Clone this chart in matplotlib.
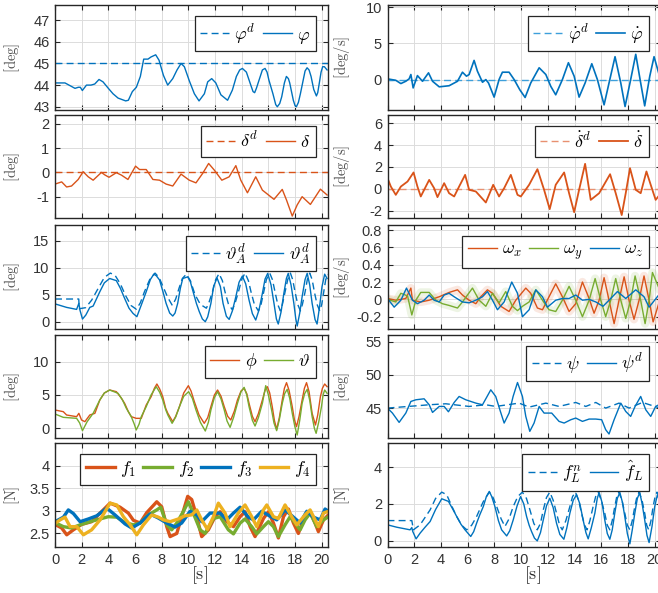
import matplotlib
matplotlib.use('Agg')
import matplotlib.pyplot as plt

plt.rcParams['mathtext.fontset'] = 'cm'
plt.rcParams['font.family'] = ['Liberation Sans', 'DejaVu Sans']
plt.rcParams['axes.unicode_minus'] = False
plt.rcParams['lines.solid_joinstyle'] = 'round'
plt.rcParams['lines.dash_joinstyle'] = 'round'

BLUE = '#0072BD'
ORANGE = '#D95319'
GREEN = '#77AC30'
YELLOW = '#EDB120'
DARK = '#262626'

# ---------------- data (time [s], value) ----------------
# Row 1 left: phi
phi_t = [0, 0.75, 1.5, 1.75, 1.9, 2.05, 2.36, 2.7, 2.98, 3.3, 3.6, 4.0, 4.35, 4.73, 5.3, 5.5, 5.8, 6.1, 6.4,
         6.65, 6.97, 7.2, 7.55, 7.8, 8.13, 8.45, 8.83, 9.15, 9.45, 9.7, 10.07, 10.45, 10.8, 11.2, 11.45, 11.75,
         12.06, 12.44, 12.94, 13.3, 13.6, 13.85, 14.05, 14.35, 14.68, 14.85, 14.97, 15.1, 15.3, 15.55, 15.75,
         15.9, 16.04, 16.34, 16.55, 16.67, 16.85, 17.0, 17.2, 17.35, 17.5, 17.6, 17.87, 18.0, 18.1, 18.25,
         18.4, 18.6, 18.75, 18.9, 19.05, 19.2, 19.4, 19.6, 19.7, 19.82, 19.95, 20.07, 20.2, 20.4]
phi_v = [44.1, 44.1, 43.85, 43.9, 43.9, 43.75, 44.0, 44.0, 44.05, 44.26, 44.15, 43.85, 43.6, 43.4, 43.27,
         43.3, 43.7, 43.9, 44.4, 45.2, 45.2, 45.3, 45.4, 45.15, 44.45, 44.0, 44.3, 44.7, 45.0, 44.85, 44.2,
         43.6, 43.27, 43.6, 44.15, 44.3, 44.1, 43.55, 43.3, 43.77, 44.4, 44.7, 44.77, 44.6, 44.0, 43.7, 43.65,
         43.85, 44.23, 44.7, 44.77, 44.6, 44.23, 43.6, 43.1, 43.0, 43.15, 43.46, 44.1, 44.4, 44.3, 44.1,
         43.3, 43.05, 43.0, 43.2, 43.6, 44.2, 44.65, 44.8, 44.7, 44.4, 43.8, 43.5, 43.65, 44.1, 44.6, 44.85,
         44.85, 44.7]
phi_d_t = [0, 20.5]
phi_d_v = [45.0, 45.0]

# Row 2 left: delta
delta_t = [0, 0.5, 0.87, 1.24, 1.74, 2.11, 2.49, 2.86, 3.48, 3.73, 4.05, 4.6, 4.98, 5.47, 6.04, 6.34, 6.84,
           7.34, 7.84, 8.33, 8.83, 9.45, 10.07, 10.57, 11.07, 11.52, 11.94, 12.51, 13.06, 13.56, 13.93,
           14.43, 15.05, 15.55, 16.42, 17.04, 17.36, 17.79, 18.16, 18.53, 19.15, 19.9, 20.4]
delta_v = [-0.48, -0.39, -0.6, -0.56, -0.29, 0.03, -0.18, -0.32, 0.0, -0.1, -0.2, -0.01, -0.11, -0.29,
           0.26, 0.12, 0.12, -0.29, -0.32, -0.48, -0.56, -0.07, -0.32, -0.43, -0.04, 0.37, 0.1, -0.32,
           -0.18, 0.28, -0.32, -0.84, -0.18, -0.73, -1.11, -0.7, -1.14, -1.8, -1.34, -1.0, -1.32, -0.69, -0.93]
delta_d_t = [0, 20.5]
delta_d_v = [0.0, 0.0]

# Row 3 left: theta_A desired (dashed) and actual (solid)
thA_d_t = [0, 1.78, 1.82, 2.3, 2.75, 3.2, 3.7, 4.15, 4.5, 4.9, 5.3, 5.7, 6.1, 6.4, 6.7, 7.1, 7.5, 7.8, 8.1,
           8.45, 8.8, 9.05, 9.3, 9.55, 9.85, 10.15, 10.5, 10.9, 11.35, 11.55, 11.8, 12.05, 12.3, 12.55, 12.75,
           13.0, 13.3, 13.5, 13.75, 14.0, 14.25, 14.5, 14.7, 14.95, 15.25, 15.45, 15.65, 15.85, 16.1, 16.3,
           16.5, 16.7, 16.9, 17.05, 17.25, 17.45, 17.65, 17.82, 18.0, 18.2, 18.4, 18.55, 18.75, 18.92, 19.1,
           19.28, 19.45, 19.65, 19.85, 20.0, 20.15, 20.3, 20.45]
thA_d_v = [4.2, 4.2, 2.4, 2.6, 4.0, 6.0, 8.2, 9.0, 8.6, 7.0, 4.8, 3.0, 2.3, 3.5, 5.5, 7.8, 9.0, 8.2, 6.5,
           4.5, 3.0, 4.2, 6.2, 8.0, 8.8, 7.6, 5.0, 3.2, 2.5, 3.6, 5.5, 7.8, 8.9, 7.6, 5.5, 3.3, 2.2, 3.4, 5.5,
           7.8, 9.0, 7.6, 5.5, 3.2, 2.0, 3.2, 5.5, 7.8, 9.0, 7.8, 5.5, 3.2, 2.0, 3.2, 5.5, 7.8, 9.0, 7.8, 5.5,
           3.2, 2.0, 3.2, 5.5, 7.8, 9.0, 7.8, 5.5, 3.2, 2.0, 3.2, 5.5, 7.8, 8.8]
thA_t = [0, 0.87, 1.62, 1.79, 1.87, 2.06, 2.31, 2.61, 2.86, 3.36, 3.7, 4.1, 4.6, 4.9, 5.22, 5.55, 5.85, 6.14,
         6.47, 6.84, 7.15, 7.41, 7.6, 7.84, 8.1, 8.33, 8.6, 8.83, 9.0, 9.2, 9.4, 9.58, 9.95, 10.15, 10.32,
         10.6, 10.82, 11.05, 11.27, 11.45, 11.69, 11.9, 12.15, 12.4, 12.6, 12.85, 13.06, 13.3, 13.56, 13.8,
         14.05, 14.3, 14.55, 14.8, 15.05, 15.3, 15.55, 15.75, 15.95, 16.2, 16.42, 16.6, 16.74, 16.95, 17.16,
         17.35, 17.49, 17.7, 17.91, 18.05, 18.16, 18.35, 18.53, 18.75, 18.91, 19.1, 19.28, 19.5, 19.65,
         19.85, 20.02, 20.22, 20.4]
thA_v = [3.3, 2.65, 2.28, 3.4, 2.16, 0.49, 1.23, 2.65, 2.9, 5.55, 7.2, 8.0, 7.6, 6.2, 4.32, 2.5, 1.54, 0.93,
         3.09, 5.55, 7.8, 8.8, 8.5, 7.72, 5.5, 3.4, 1.6, 1.05, 1.6, 3.4, 6.2, 8.0, 8.3, 7.4, 5.86, 3.4, 1.85,
         0.5, 0.0, 0.9, 3.4, 6.6, 8.1, 6.5, 3.4, 1.0, 0.43, 2.0, 4.63, 7.3, 8.45, 7.0, 4.01, 1.5, 0.31, 2.2,
         5.25, 7.9, 8.95, 6.8, 3.4, 0.5, -0.43, 1.8, 5.25, 8.0, 8.95, 6.8, 3.4, 0.6, -0.8, 1.6, 4.63, 7.8,
         8.95, 6.8, 3.4, 0.4, -0.43, 3.0, 6.48, 8.8, 8.0]

# Row 4 left: roll phi and pitch theta
roll_t = [0, 0.62, 0.87, 1.62, 1.79, 1.99, 2.24, 2.61, 2.99, 3.36, 3.7, 4.1, 4.6, 4.95, 5.22, 5.5, 5.72, 6.09,
          6.47, 6.84, 7.21, 7.45, 7.64, 7.85, 8.08, 8.3, 8.46, 8.83, 9.05, 9.33, 9.65, 10.0, 10.2, 10.45,
          10.8, 11.19, 11.45, 11.69, 11.95, 12.19, 12.45, 12.69, 12.95, 13.18, 13.45, 13.68, 13.95, 14.18,
          14.38, 14.55, 14.8, 15.0, 15.25, 15.55, 15.75, 15.92, 16.1, 16.29, 16.45, 16.62, 16.82, 17.04,
          17.2, 17.36, 17.55, 17.79, 17.95, 18.11, 18.3, 18.53, 18.7, 18.86, 19.05, 19.28, 19.53, 19.7,
          19.9, 20.05, 20.22, 20.4]
roll_v = [2.75, 2.5, 2.0, 1.75, 2.25, 1.25, 1.0, 2.0, 2.25, 4.25, 5.3, 5.75, 5.5, 4.6, 3.75, 2.5, 1.75, 1.5,
          1.5, 3.5, 4.75, 6.0, 6.65, 5.9, 4.75, 3.0, 2.25, 1.0, 1.8, 3.25, 5.3, 6.4, 5.6, 4.0, 2.0, 0.75, 1.6,
          3.25, 5.0, 5.75, 4.8, 3.25, 1.8, 1.25, 2.6, 4.25, 5.6, 6.0, 5.2, 3.75, 1.8, 1.0, 2.2, 4.25, 5.7,
          6.25, 5.3, 3.25, 1.2, -0.15, 1.6, 4.25, 6.0, 6.85, 5.7, 3.25, 1.3, 0.25, 1.8, 4.25, 6.0, 6.85,
          5.5, 2.25, 0.5, 2.0, 4.75, 6.0, 6.65, 6.25]
pitch_t = [0, 0.62, 1.62, 1.85, 2.06, 2.41, 2.86, 3.36, 3.7, 4.1, 4.73, 5.05, 5.35, 5.72, 5.95, 6.09, 6.3,
           6.47, 6.84, 7.2, 7.59, 7.85, 8.08, 8.3, 8.46, 8.78, 9.05, 9.33, 9.65, 10.02, 10.3, 10.57, 10.9,
           11.27, 11.5, 11.69, 11.95, 12.19, 12.45, 12.69, 12.9, 13.13, 13.4, 13.68, 13.95, 14.18, 14.38,
           14.55, 14.8, 15.0, 15.25, 15.55, 15.8, 16.0, 16.24, 16.42, 16.62, 16.82, 17.04, 17.22, 17.41,
           17.6, 17.79, 17.98, 18.16, 18.35, 18.53, 18.72, 18.91, 19.1, 19.28, 19.45, 19.58, 19.78, 19.98,
           20.1, 20.22, 20.4]
pitch_v = [2.15, 1.65, 1.5, 0.8, -0.35, 1.0, 2.25, 4.25, 5.3, 5.75, 5.25, 4.3, 3.0, 1.75, 0.6, -0.25, 0.6,
           1.75, 3.25, 5.0, 6.25, 5.4, 4.25, 2.8, 2.0, 0.75, 1.7, 3.25, 4.8, 5.5, 4.5, 2.75, 0.9, -0.4, 0.9,
           2.75, 4.6, 5.5, 4.4, 2.75, 1.1, 0.15, 1.7, 3.75, 5.5, 6.15, 5.0, 3.25, 1.2, 0.35, 1.6, 3.75, 6.4,
           5.0, 2.75, 0.8, -0.35, 1.3, 3.75, 5.2, 5.85, 4.5, 2.25, 0.3, -1.0, 1.2, 3.75, 5.2, 5.85, 4.2, 1.75,
           0.0, -0.75, 1.0, 3.25, 5.0, 5.75, 5.25]

# Row 5 left: rotor forces
f1_t = [0, 0.5, 0.88, 1.38, 2.0, 2.75, 3.38, 4.13, 4.88, 5.5, 5.88, 6.38, 6.88, 7.63, 8.0, 8.38, 8.63, 9.13,
        9.5, 9.95, 10.25, 10.63, 11.0, 11.5, 12.0, 12.38, 12.88, 13.38, 13.88, 14.25, 14.63, 15.0, 15.63,
        16.0, 16.38, 16.75, 17.13, 17.5, 17.88, 18.25, 18.75, 19.13, 19.5, 19.75, 20.13, 20.5]
f1_v = [2.7, 2.62, 2.47, 2.58, 2.7, 2.76, 2.95, 3.17, 3.08, 2.95, 2.79, 2.73, 2.96, 3.2, 3.09, 2.65, 2.43,
        2.5, 2.87, 3.32, 3.25, 2.87, 2.43, 2.58, 2.87, 2.98, 2.76, 2.65, 2.87, 2.98, 2.65, 2.43, 2.83, 2.98,
        2.73, 2.4, 2.87, 3.04, 2.73, 2.5, 2.91, 2.98, 2.73, 2.54, 2.8, 2.91]
f2_t = [0, 0.63, 1.25, 1.88, 2.63, 3.38, 4.0, 4.63, 5.25, 5.88, 6.38, 7.0, 7.63, 7.93, 8.38, 8.75, 9.13,
        9.63, 10.0, 10.38, 10.88, 11.25, 11.88, 12.38, 13.0, 13.38, 13.88, 14.25, 14.75, 15.13, 15.63, 16.0,
        16.38, 16.75, 17.25, 17.63, 18.0, 18.38, 18.75, 19.13, 19.63, 20.13, 20.5]
f2_v = [2.74, 2.65, 2.62, 2.69, 2.76, 2.82, 2.87, 2.86, 2.74, 2.69, 2.73, 2.91, 3.02, 3.08, 2.69, 2.58,
        2.73, 2.99, 3.2, 2.94, 2.58, 2.5, 2.83, 2.87, 2.58, 2.49, 2.73, 2.82, 2.65, 2.49, 2.65, 2.76, 2.65,
        2.43, 2.69, 2.87, 2.73, 2.58, 2.8, 2.95, 2.65, 2.8, 2.87]
f3_t = [0, 0.63, 1.0, 1.38, 1.88, 2.5, 3.13, 3.88, 4.5, 5.25, 5.75, 6.38, 7.13, 7.75, 8.38, 9.0, 9.5,
        10.13, 10.63, 11.0, 11.63, 12.38, 12.88, 13.38, 13.88, 14.5, 14.88, 15.5, 16.13, 16.63, 17.25,
        17.88, 18.38, 18.88, 19.38, 19.88, 20.25, 20.5]
f3_v = [2.76, 2.86, 3.02, 2.94, 2.76, 2.82, 2.89, 3.06, 2.91, 2.71, 2.62, 2.73, 2.93, 2.84, 2.73, 2.64,
        2.73, 2.99, 2.91, 2.76, 2.95, 2.95, 2.8, 2.95, 3.08, 2.86, 2.8, 2.99, 2.88, 2.8, 3.02, 2.86, 2.73,
        2.99, 2.86, 2.8, 3.04, 2.99]
f4_t = [0, 0.38, 0.75, 1.13, 1.63, 2.13, 2.75, 3.38, 4.13, 4.63, 5.13, 5.63, 6.13, 6.63, 7.25, 7.75, 8.13,
        8.63, 9.25, 9.75, 10.25, 10.63, 11.0, 11.43, 11.88, 12.25, 12.75, 13.13, 13.75, 14.25, 14.75, 15.13,
        15.63, 15.88, 16.38, 16.75, 17.25, 17.75, 18.13, 18.75, 19.13, 19.5, 19.75, 20.13, 20.5]
f4_v = [2.72, 2.8, 2.86, 2.65, 2.65, 2.47, 2.58, 2.8, 3.17, 3.13, 2.87, 2.69, 2.47, 2.69, 2.91, 2.86, 2.8,
        2.76, 2.82, 2.89, 2.91, 3.02, 2.8, 2.59, 2.87, 3.17, 2.95, 2.65, 2.95, 3.13, 2.87, 2.65, 3.02, 3.13,
        2.87, 2.83, 3.13, 2.87, 2.69, 2.91, 3.02, 2.8, 2.65, 2.95, 2.99]

# Row 1 right: phi rate
phidot_t = [0, 0.62, 1.0, 1.37, 1.62, 1.75, 1.92, 2.24, 2.62, 3.07, 3.37, 3.87, 4.61, 5.24, 5.61, 5.91,
            6.11, 6.48, 6.73, 7.11, 7.36, 7.56, 7.98, 8.35, 8.6, 9.1, 9.48, 9.9, 10.3, 10.72, 11.35, 11.85,
            12.22, 12.59, 13.09, 13.54, 13.97, 14.34, 14.79, 15.29, 15.71, 16.21, 16.58, 17.03, 17.46,
            17.78, 18.2, 18.58, 18.95, 19.25, 19.63, 19.95, 20.4]
phidot_v = [0.1, -0.1, -0.55, -0.23, 0.1, 0.7, -1.15, 0.55, -0.23, 0.93, -0.23, -1.0, -0.85, -0.23, 1.02,
            0.47, 0.7, 2.65, 1.16, -0.37, 0.0, -0.47, -2.42, 0.0, 1.02, 1.02, 0.0, -1.4, -2.47, -0.47, 1.63,
            0.7, -0.93, -2.1, 0.0, 2.33, 0.47, -2.42, -0.47, 2.19, 0.0, -3.49, -0.47, 3.16, -0.47, -3.72,
            0.0, 3.49, -0.47, -3.63, 0.47, 3.16, 0.23]
phidot_d_t = [0, 20.5]
phidot_d_v = [0.0, 0.0]

# Row 2 right: delta rate
ddot_t = [0, 0.25, 0.62, 1.0, 1.5, 1.95, 2.24, 2.49, 3.12, 3.49, 3.74, 4.24, 4.61, 4.99, 5.36, 5.81, 6.11,
          6.61, 7.36, 7.91, 8.35, 8.73, 9.23, 9.73, 9.98, 10.6, 11.22, 11.72, 12.14, 12.59, 13.22, 13.59,
          13.97, 14.34, 14.79, 15.21, 15.84, 16.66, 17.08, 17.53, 17.83, 18.15, 18.58, 18.95, 19.38, 19.7,
          20.07, 20.4]
ddot_v = [0.98, 0.21, -0.55, 0.21, 0.67, 1.5, 0.21, -0.7, 0.82, 0.06, -0.76, 0.52, -0.4, -0.7, 0.21, 1.28,
          -0.09, -0.24, -1.25, 0.37, -0.7, 0.06, 1.28, -0.55, -0.7, 0.37, 1.8, -0.09, -1.86, 0.37, 1.5, -0.4,
          -2.14, -0.09, 2.29, -1.01, -0.4, 1.34, -0.4, -2.4, -0.4, 1.89, -0.09, -0.4, 1.59, 0.37, -1.01, -0.5]
ddot_d_t = [0, 20.5]
ddot_d_v = [0.0, 0.0]

# Row 3 right: angular rates
wx_t = [0, 0.62, 1.37, 1.75, 1.87, 2.49, 3.12, 3.87, 4.61, 5.24, 5.61, 6.11, 6.61, 6.98, 7.48, 7.86, 8.48,
        9.1, 9.6, 10.35, 10.72, 11.22, 11.6, 12.09, 12.59, 13.09, 13.59, 14.09, 14.59, 15.09, 15.46, 15.84,
        16.21, 16.58, 16.96, 17.33, 17.71, 18.08, 18.45, 18.83, 19.2, 19.58, 19.88, 20.4]
wx_v = [0.01, -0.01, 0.01, 0.13, -0.01, -0.03, -0.01, 0.03, 0.08, 0.11, 0.05, -0.01, -0.05, 0.03, 0.11,
        0.07, -0.08, -0.14, -0.01, 0.13, 0.07, -0.1, -0.12, 0.03, 0.18, 0.03, -0.14, -0.05, 0.2, 0.01, -0.16,
        -0.01, 0.25, -0.01, -0.28, -0.01, 0.26, -0.01, -0.23, -0.01, 0.27, -0.01, -0.26, 0.0]
wy_t = [0, 0.62, 1.0, 1.5, 1.82, 2.12, 2.49, 3.12, 3.62, 4.11, 4.61, 5.24, 5.61, 6.36, 6.86, 7.36, 7.86,
        8.35, 8.85, 9.35, 9.73, 10.1, 10.6, 11.1, 11.6, 12.09, 12.59, 13.09, 13.59, 14.09, 14.59, 15.09,
        15.54, 15.96, 16.33, 16.71, 17.08, 17.46, 17.83, 18.2, 18.53, 18.95, 19.28, 19.58, 19.83, 20.4]
wy_v = [0.0, -0.03, 0.07, 0.04, -0.18, -0.01, 0.08, 0.08, -0.01, -0.05, -0.07, -0.1, -0.03, 0.13, -0.01,
        -0.08, 0.07, -0.04, 0.09, -0.08, -0.13, -0.08, -0.03, 0.11, -0.01, -0.12, -0.14, -0.01, 0.15, -0.01,
        -0.2, -0.01, 0.24, -0.01, -0.2, -0.01, 0.24, -0.01, -0.22, -0.01, 0.27, -0.01, -0.28, -0.01, 0.31, 0.1]
wz_t = [0, 0.5, 1.0, 1.42, 1.87, 2.24, 2.74, 3.12, 3.49, 3.87, 4.24, 4.61, 4.99, 5.61, 6.11, 6.61, 7.11,
        7.48, 7.86, 8.23, 8.73, 9.3, 9.73, 10.1, 10.6, 11.1, 11.6, 11.97, 12.59, 13.09, 13.59, 14.09, 14.59,
        15.09, 15.59, 16.13, 16.58, 17.21, 17.83, 18.58, 19.2, 19.58, 20.4]
wz_v = [0.01, -0.09, -0.01, 0.13, -0.01, -0.05, -0.01, 0.05, -0.01, -0.03, 0.05, 0.07, 0.03, -0.03,
        -0.04, -0.01, 0.03, 0.09, -0.01, -0.12, -0.03, 0.2, 0.07, -0.2, -0.12, 0.11, 0.03, -0.09, -0.01,
        0.01, 0.01, 0.05, -0.01, 0.0, -0.03, -0.08, -0.01, 0.09, 0.01, 0.11, 0.03, -0.09, 0.07]

# Row 4 right: yaw
psi_t = [0, 3.12, 4.36, 6.11, 7.36, 8.1, 9.85, 10.6, 11.85, 12.84, 14.09, 14.84, 15.59, 16.33, 17.33,
         18.08, 19.08, 20.4]
psi_v = [45.0, 45.5, 45.65, 45.25, 45.5, 45.25, 45.75, 45.15, 45.75, 45.25, 45.85, 45.25, 45.85, 45.0,
         45.75, 45.0, 45.85, 45.0]
psi_d_t = [0, 0.37, 0.87, 1.37, 1.75, 2.12, 2.74, 3.12, 3.37, 3.87, 4.24, 4.56, 4.99, 5.36, 5.86, 6.61,
           7.11, 7.73, 8.1, 8.45, 8.73, 9.1, 9.4, 9.73, 10.1, 10.35, 10.65, 10.97, 11.35, 11.72, 12.29, 12.84,
           13.22, 13.72, 14.09, 14.59, 15.09, 15.59, 16.03, 16.33, 16.58, 16.96, 17.46, 17.83, 18.2, 18.53,
           18.95, 19.33, 19.7, 20.07, 20.4]
psi_d_v = [45.0, 44.25, 42.85, 44.25, 46.0, 46.25, 46.4, 45.5, 44.35, 45.25, 45.25, 44.45, 45.85, 46.75,
           46.25, 45.75, 45.5, 47.75, 46.75, 44.5, 42.75, 44.25, 46.75, 48.85, 46.75, 43.75, 41.5, 42.75, 45.25,
           44.25, 44.25, 43.0, 42.75, 43.25, 43.5, 43.0, 43.35, 43.35, 43.25, 41.75, 41.1, 43.25, 45.75,
           44.5, 43.75, 45.25, 46.75, 44.75, 43.75, 45.25, 45.6]

# Row 5 right: lift force nominal (dashed) and estimated (solid)
fLn_t = [0, 1.82, 1.94, 2.44, 3.19, 3.6, 4.06, 4.43, 4.8, 5.18, 5.55, 5.93, 6.3, 6.67, 7.15, 7.62, 7.9,
         8.17, 8.5, 8.79, 9.1, 9.41, 9.75, 10.09, 10.4, 10.66, 10.95, 11.21, 11.45, 11.66, 11.9, 12.15,
         12.4, 12.65, 12.88, 13.08, 13.35, 13.65, 13.85, 14.07, 14.3, 14.52, 14.75, 14.94, 15.15, 15.39,
         15.58, 15.77, 16.0, 16.26, 16.45, 16.64, 16.82, 17.01, 17.16, 17.31, 17.55, 17.76, 17.95, 18.14,
         18.32, 18.51, 18.67, 18.83, 19.05, 19.25, 19.4, 19.55, 19.72, 19.88, 20.03, 20.17, 20.4]
fLn_v = [1.1, 1.1, 0.6, 0.87, 1.68, 2.3, 2.64, 2.5, 1.9, 1.32, 0.85, 0.6, 0.85, 1.32, 2.1, 2.64, 2.35,
         1.86, 1.2, 0.78, 1.2, 1.86, 2.4, 2.64, 2.3, 1.68, 0.95, 0.6, 0.95, 1.68, 2.35, 2.64, 2.2, 1.5, 0.85,
         0.6, 1.1, 1.86, 2.4, 2.64, 2.2, 1.5, 0.85, 0.6, 1.1, 1.86, 2.4, 2.64, 2.2, 1.5, 0.85, 0.6, 1.1, 1.86,
         2.4, 2.64, 2.2, 1.5, 0.85, 0.6, 1.1, 1.86, 2.4, 2.64, 2.2, 1.5, 0.85, 0.6, 1.1, 1.86, 2.4, 2.64, 2.3]
fL_t = [0, 0.7, 1.69, 1.82, 1.89, 2.14, 2.44, 2.81, 3.19, 3.6, 4.06, 4.56, 4.9, 5.18, 5.5, 5.8, 6.23, 6.45,
        6.67, 6.9, 7.17, 7.4, 7.62, 7.8, 8.04, 8.3, 8.54, 8.92, 9.15, 9.41, 9.7, 9.96, 10.2, 10.41, 10.6,
        10.78, 11.0, 11.21, 11.45, 11.66, 11.9, 12.15, 12.4, 12.65, 12.9, 13.2, 13.42, 13.65, 13.9, 14.15,
        14.4, 14.64, 14.85, 15.02, 15.25, 15.52, 15.7, 15.84, 16.05, 16.26, 16.45, 16.64, 16.82, 17.01,
        17.2, 17.39, 17.58, 17.76, 17.95, 18.14, 18.32, 18.51, 18.7, 18.88, 19.06, 19.25, 19.42, 19.58,
        19.8, 20.0, 20.2, 20.4]
fL_v = [0.87, 0.74, 0.6, 0.72, 0.51, 0.11, 0.42, 0.74, 1.05, 1.7, 2.28, 2.14, 1.7, 1.32, 0.9, 0.6, 0.24,
        0.5, 0.96, 1.4, 1.86, 2.4, 2.68, 2.4, 1.86, 1.1, 0.6, 0.27, 0.55, 1.14, 1.9, 2.4, 2.0, 1.32, 0.85,
        0.51, 0.15, 0.0, 0.45, 1.14, 1.9, 2.31, 1.8, 0.96, 0.35, 0.09, 0.7, 1.5, 2.2, 2.5, 2.0, 1.14, 0.45,
        0.11, 0.7, 1.5, 2.3, 2.62, 2.1, 1.14, 0.4, 0.09, 0.6, 1.5, 2.3, 2.62, 2.1, 1.32, 0.4, -0.16, 0.6,
        1.5, 2.3, 2.62, 2.0, 1.14, 0.3, -0.09, 0.8, 1.86, 2.5, 2.1]

# axis settings
x_ticks = [0, 2, 4, 6, 8, 10, 12, 14, 16, 18, 20]
x_tick_labels = ['0', '2', '4', '6', '8', '10', '12', '14', '16', '18', '20']
w_ticks = [-0.2, 0, 0.2, 0.4, 0.6, 0.8]
w_tick_labels = ['-0.2', '0', '0.2', '0.4', '0.6', '0.8']

# ---------------- figure ----------------
W, H = 658, 593
fig = plt.figure(figsize=(W / 100, H / 100), dpi=100)

rows_px = [(5, 110), (115, 218), (225, 329), (335, 438), (443, 547)]
left_px = (55, 328)
right_px = (387.5, 661)


def make_ax(col, row):
    x0, x1 = left_px if col == 0 else right_px
    y0, y1 = rows_px[row]
    return fig.add_axes([x0 / W, 1 - y1 / H, (x1 - x0) / W, (y1 - y0) / H])


def style(ax, ylim, yticks, ylabel, col, bottom=False, yticklabels=None):
    ax.set_xlim(0, 20.47)
    ax.set_ylim(*ylim)
    ax.set_xticks(x_ticks)
    ax.set_yticks(yticks)
    if yticklabels is not None:
        ax.set_yticklabels(yticklabels)
    if bottom:
        ax.set_xticklabels(x_tick_labels)
        ax.set_xlabel(r'$[\mathrm{s}]$', fontsize=13, color=DARK)
        ax.xaxis.set_label_coords(0.53, -0.17)
    else:
        ax.set_xticklabels([])
    ax.grid(True, color='#dcdcdc', linewidth=0.7)
    ax.set_axisbelow(True)
    ax.tick_params(direction='in', top=True, right=True, length=3.5, width=0.8,
                   colors=DARK, labelsize=10.5, pad=4)
    ax.tick_params(labelcolor='#333333')
    for s in ax.spines.values():
        s.set_color(DARK)
        s.set_linewidth(1.0)
    ax.set_ylabel(ylabel, fontsize=10.5, color='#505050')
    ax.yaxis.set_label_coords(-0.12 if col == 0 else -0.13, 0.5)


def legend(ax, ncol=2):
    leg = ax.legend(loc='upper right', bbox_to_anchor=(1 - 12 / 273, 1 - 11 / 104), borderaxespad=0,
                    ncol=ncol, fontsize=13, frameon=True, fancybox=False, framealpha=1,
                    edgecolor=DARK, handlelength=1.6, handletextpad=0.3, columnspacing=0.4,
                    borderpad=0.3)
    leg.get_frame().set_linewidth(0.9)


DASH = (0, (5, 3))
LW = 1.0

# Row 1 left
ax = make_ax(0, 0)
ax.plot(phi_d_t, phi_d_v, color=BLUE, lw=LW, ls=DASH, label=r'$\varphi^d$')
ax.plot(phi_t, phi_v, color=BLUE, lw=LW, label=r'$\varphi$')
style(ax, (42.85, 47.7), [43, 44, 45, 46, 47], r'$[\mathrm{deg}]$', 0)
legend(ax)

# Row 2 left
ax = make_ax(0, 1)
ax.plot(delta_d_t, delta_d_v, color=ORANGE, lw=LW, ls=DASH, label=r'$\delta^d$')
ax.plot(delta_t, delta_v, color=ORANGE, lw=LW, label=r'$\delta$')
style(ax, (-1.88, 2.37), [-1, 0, 1, 2], r'$[\mathrm{deg}]$', 0)
legend(ax)

# Row 3 left
ax = make_ax(0, 2)
ax.plot(thA_d_t, thA_d_v, color=BLUE, lw=LW, ls=DASH, label=r'$\vartheta_A^d$')
ax.plot(thA_t, thA_v, color=BLUE, lw=LW, label=r'$\vartheta_A^d$')
style(ax, (-1.35, 17.9), [0, 5, 10, 15], r'$[\mathrm{deg}]$', 0)
legend(ax)

# Row 4 left
ax = make_ax(0, 3)
ax.plot(roll_t, roll_v, color=ORANGE, lw=LW, label=r'$\phi$')
ax.plot(pitch_t, pitch_v, color=GREEN, lw=LW, label=r'$\vartheta$')
style(ax, (-1.45, 14.0), [0, 5, 10], r'$[\mathrm{deg}]$', 0)
legend(ax)

# Row 5 left
ax = make_ax(0, 4)
ax.plot(f1_t, f1_v, color=ORANGE, lw=2.4, label=r'$f_1$')
ax.plot(f2_t, f2_v, color=GREEN, lw=2.4, label=r'$f_2$')
ax.plot(f3_t, f3_v, color=BLUE, lw=2.4, label=r'$f_3$')
ax.plot(f4_t, f4_v, color=YELLOW, lw=2.4, label=r'$f_4$')
style(ax, (2.2, 4.5), [2.5, 3, 3.5, 4], r'$[\mathrm{N}]$', 0, bottom=True,
      yticklabels=['2.5', '3', '3.5', '4'])
legend(ax, ncol=4)

# Row 1 right
ax = make_ax(1, 0)
ax.plot(phidot_d_t, phidot_d_v, color='#3D9FDB', lw=LW, ls=DASH, label=r'$\dot{\varphi}^d$')
ax.plot(phidot_t, phidot_v, color=BLUE, lw=1.2, label=r'$\dot{\varphi}$')
style(ax, (-4.2, 10.3), [0, 5, 10], r'$[\mathrm{deg/s}]$', 1)
legend(ax)

# Row 2 right
ax = make_ax(1, 1)
ax.plot(ddot_d_t, ddot_d_v, color='#E89070', lw=LW, ls=DASH, label=r'$\dot{\delta}^d$')
ax.plot(ddot_t, ddot_v, color=ORANGE, lw=1.3, label=r'$\dot{\delta}$')
style(ax, (-2.67, 6.76), [-2, 0, 2, 4, 6], r'$[\mathrm{deg/s}]$', 1)
legend(ax)

# Row 3 right
ax = make_ax(1, 2)
ax.plot(wx_t, wx_v, color=ORANGE, lw=6, alpha=0.13)
ax.plot(wy_t, wy_v, color=GREEN, lw=6, alpha=0.13)
ax.plot(wx_t, wx_v, color=ORANGE, lw=LW, label=r'$\omega_x$')
ax.plot(wy_t, wy_v, color=GREEN, lw=LW, label=r'$\omega_y$')
ax.plot(wz_t, wz_v, color=BLUE, lw=LW, label=r'$\omega_z$')
style(ax, (-0.342, 0.858), w_ticks, r'$[\mathrm{deg/s}]$', 1, yticklabels=w_tick_labels)
legend(ax, ncol=3)

# Row 4 right
ax = make_ax(1, 3)
ax.plot(psi_t, psi_v, color=BLUE, lw=LW, ls=DASH, label=r'$\psi$')
ax.plot(psi_d_t, psi_d_v, color=BLUE, lw=LW, label=r'$\psi^d$')
style(ax, (40.5, 56.0), [45, 50, 55], r'$[\mathrm{deg}]$', 1)
legend(ax)

# Row 5 right
ax = make_ax(1, 4)
ax.plot(fLn_t, fLn_v, color=BLUE, lw=LW, ls=DASH, label=r'$f_L^n$')
ax.plot(fL_t, fL_v, color=BLUE, lw=LW, label=r'$\hat{f}_L$')
style(ax, (-0.33, 5.3), [0, 2, 4], r'$[\mathrm{N}]$', 1, bottom=True)
legend(ax)

fig.savefig('out.png', dpi=100)
